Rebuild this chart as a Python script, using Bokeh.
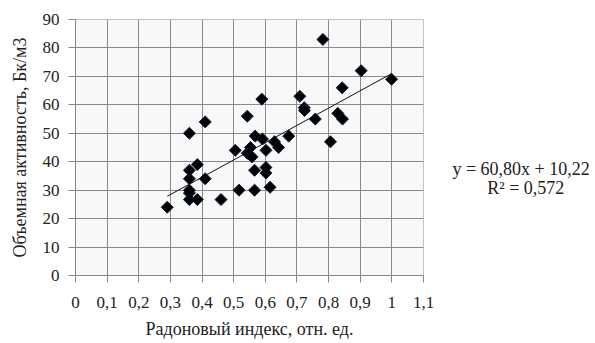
import numpy as np
from bokeh.plotting import figure
from bokeh.layouts import row
from bokeh.models import FixedTicker, Label, Range1d
from bokeh.embed import file_html
from bokeh.resources import INLINE

# Radon index (rel. units) vs volumetric activity (Bq/m3)
radon_index = [0.29, 0.36, 0.385, 0.36, 0.36, 0.36, 0.36, 0.385, 0.41, 0.36,
               0.41, 0.46, 0.517, 0.566, 0.615, 0.566, 0.602, 0.602, 0.505, 0.543,
               0.553, 0.547, 0.558, 0.602, 0.568, 0.591, 0.629, 0.642, 0.674, 0.543,
               0.589, 0.709, 0.723, 0.724, 0.758, 0.829, 0.844, 0.843, 0.782, 0.903,
               0.999, 0.806]
activity = [24, 26.7, 26.7, 29, 30, 34, 37, 39, 34, 50,
            54, 26.7, 30, 30, 31, 37, 36, 38, 44, 43,
            45, 42.8, 41.7, 44, 49, 48, 47, 45, 49, 56,
            62, 63, 59, 58, 55, 57, 55, 66, 83, 72,
            69, 47]

slope = 60.80
intercept = 10.22
r2_text = "0,572"

x_ticks = [0, 0.1, 0.2, 0.3, 0.4, 0.5, 0.6, 0.7, 0.8, 0.9, 1.0, 1.1]
x_tick_labels = ["0", "0,1", "0,2", "0,3", "0,4", "0,5", "0,6", "0,7", "0,8", "0,9", "1", "1,1"]
y_ticks = [0, 10, 20, 30, 40, 50, 60, 70, 80, 90]

x_title = "Радоновый индекс, отн. ед."
y_title = "Объемная активность, Бк/м3"
eq_text = "y = 60,80x + 10,22"

FONT = "Liberation Serif"

p = figure(frame_width=348, frame_height=256, output_backend="svg", toolbar_location=None,
           x_range=Range1d(0, 1.1), y_range=Range1d(0, 90),
           min_border_left=75, min_border_right=17, min_border_top=19, min_border_bottom=66)

p.background_fill_color = "#f8f8f8"
p.border_fill_color = "white"
p.outline_line_color = "#c4c4c4"

p.xaxis.ticker = FixedTicker(ticks=x_ticks)
p.xaxis.major_label_overrides = {t: l for t, l in zip(x_ticks, x_tick_labels)}
p.yaxis.ticker = FixedTicker(ticks=y_ticks)
p.xgrid.ticker = FixedTicker(ticks=x_ticks[1:-1])
p.ygrid.ticker = FixedTicker(ticks=y_ticks[1:-1])
p.grid.grid_line_color = "#8a8a8a"
p.grid.grid_line_alpha = 1.0
p.grid.level = "glyph"

p.axis.axis_line_color = "#868686"
p.axis.major_tick_line_color = "#868686"
p.axis.major_tick_out = 7
p.axis.major_tick_in = 0
p.axis.minor_tick_line_color = None
p.axis.major_label_text_font = FONT
p.axis.major_label_text_font_size = "17px"
p.axis.major_label_text_font_style = "normal"
p.axis.major_label_text_color = "#222222"
p.axis.axis_label_text_font = FONT
p.axis.axis_label_text_font_size = "18px"
p.axis.axis_label_text_font_style = "normal"
p.axis.axis_label_text_color = "#222222"

p.xaxis.axis_label = x_title
p.yaxis.axis_label = y_title
p.xaxis.major_label_standoff = 14
p.yaxis.major_label_standoff = 9
p.xaxis.axis_label_standoff = 8
p.yaxis.axis_label_standoff = 10

# trend line
xmin, xmax = min(radon_index), max(radon_index)
p.line([xmin, xmax], [slope * xmin + intercept, slope * xmax + intercept],
       line_color="#111111", line_width=1, level="overlay")

p.scatter(radon_index, activity, marker="square", angle=np.pi / 4, size=8.5,
          fill_color="black", line_color="#0b1f3a", line_width=1, level="overlay")

# side panel holding the trend-line equation (frame aligned with the main plot frame)
q = figure(frame_width=155, frame_height=256, output_backend="svg", toolbar_location=None,
           x_range=Range1d(0, 1), y_range=Range1d(0, 256),
           x_axis_type=None, y_axis_type=None,
           min_border_left=0, min_border_right=0, min_border_top=19, min_border_bottom=66)
q.outline_line_color = None
q.grid.visible = False
q.background_fill_color = "white"
q.border_fill_color = "white"

q.add_layout(Label(x=0.52, y=107, text=eq_text, text_align="center", text_baseline="middle",
                   text_font=FONT, text_font_size="18px", text_color="#222222"))
q.add_layout(Label(x=0.55, y=88, text="R\u00b2 = " + r2_text, text_align="center",
                   text_baseline="middle", text_font=FONT, text_font_size="18px",
                   text_color="#222222"))

layout = row(p, q)
open("out.html", "w").write(file_html(layout, INLINE))
